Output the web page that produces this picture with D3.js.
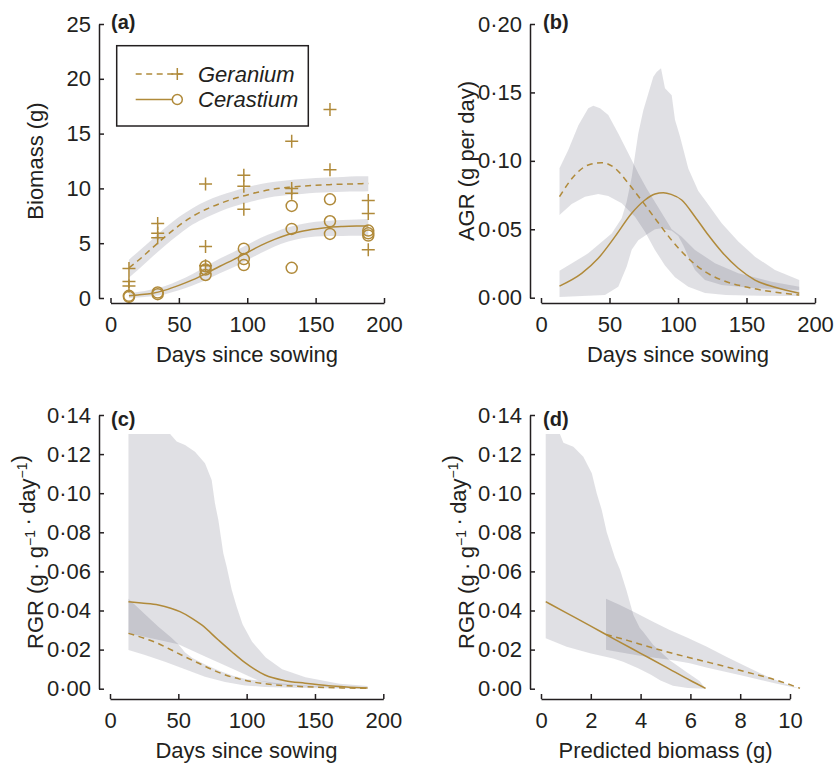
<!DOCTYPE html>
<html><head><meta charset="utf-8">
<script src="https://cdn.jsdelivr.net/npm/d3@7"></script>
<style>
body{margin:0;background:#fff}
svg{display:block}
</style>
</head><body>
<svg id="chart" width="835" height="764"></svg>
<script>
// ---------- Panel (a): biomass observations and fits ----------
const obsDays = [13.5, 34.5, 69.5, 97.5, 132.5, 160.5, 188.5];
const gerObs = [[2.7,1.5,1.1],[6.8,5.9,5.5],[10.4,4.7,2.95],[11.2,10.2,8.1],[14.3,10.0,9.55],[17.2,11.7],[8.9,7.7,4.4]];
const cerObs = [[0.2,0.1],[0.5,0.35],[2.9,2.6,2.1],[4.5,3.55,3.0],[8.4,6.3,2.75],[9.0,7.0,5.85],[6.15,5.9,5.7]];
const fitDays = [13.5,20,30,40,50,60,70,80,90,100,110,120,130,140,150,160,170,180,188.5];
const gerFit = [2.75,3.4,4.5,5.6,6.6,7.45,8.1,8.62,9.05,9.4,9.72,9.95,10.1,10.2,10.28,10.34,10.39,10.42,10.45];
const gerHi  = [3.5,4.2,5.3,6.4,7.4,8.2,8.85,9.35,9.75,10.1,10.4,10.6,10.75,10.85,10.95,11.0,11.05,11.1,11.12];
const gerLo  = [1.85,2.55,3.7,4.8,5.8,6.7,7.35,7.9,8.35,8.7,9.0,9.25,9.4,9.5,9.6,9.65,9.7,9.72,9.75];
const cerFit = [0.2,0.28,0.42,0.72,1.15,1.65,2.25,2.9,3.5,4.15,4.8,5.35,5.8,6.1,6.3,6.45,6.52,6.56,6.58];
const cerHi  = [0.45,0.55,0.78,1.1,1.6,2.2,2.9,3.6,4.2,4.85,5.5,6.0,6.45,6.75,6.95,7.05,7.12,7.17,7.2];
const cerLo  = [0.0,0.05,0.15,0.35,0.7,1.15,1.65,2.25,2.8,3.45,4.1,4.7,5.15,5.45,5.6,5.65,5.66,5.67,5.68];

// ---------- Panel (b): AGR [day, value] ----------
const gerAGR = [[13.5,0.0738],[24.8,0.0897],[34.5,0.097],[44.3,0.0987],[54,0.0946],[63.7,0.0836],[73.5,0.071],[83.2,0.058],[95.4,0.042],[107.5,0.0288],[119.7,0.019],[131.9,0.0129],[148.9,0.008],[168.4,0.0044],[188.5,0.002]];
const gerAGRHi = [[13.5,0.0946],[19.9,0.108],[27.3,0.126],[34.5,0.1384],[38.2,0.1403],[43.1,0.1384],[49.1,0.1335],[56.4,0.120],[63.7,0.1055],[71,0.091],[77,0.080],[83.2,0.070],[95.4,0.05],[102.7,0.0446],[112.4,0.0349],[127,0.0251],[144,0.0178],[168.4,0.0117],[188.5,0.008]];
const gerAGRLo = [[13.5,0.0604],[22.4,0.0685],[32.1,0.0738],[41.8,0.0758],[49.1,0.0743],[58.9,0.069],[68.6,0.0592],[75.9,0.0482],[83.2,0.0349],[90.5,0.0235],[97.8,0.015],[107.5,0.008],[119.7,0.0035],[135,0.002],[160,0.0014],[188.5,0.0012]];
const cerAGR = [[13.5,0.0085],[29.7,0.0178],[41.8,0.0288],[54,0.0446],[66.2,0.0617],[75.9,0.0714],[83.2,0.0758],[89.3,0.0767],[95,0.0755],[102.7,0.0714],[112.4,0.0592],[122.1,0.0458],[131.9,0.0336],[144,0.0215],[156.2,0.0129],[170.8,0.0076],[188.5,0.0032]];
const cerAGRHi = [[13.5,0.0197],[34.5,0.0324],[51.6,0.047],[58.9,0.058],[62.5,0.07],[66.2,0.088],[71,0.120],[74.7,0.137],[78.3,0.149],[82,0.1615],[84.4,0.165],[87.6,0.1676],[89.3,0.159],[90.5,0.153],[95.4,0.148],[97.8,0.130],[101.5,0.1176],[107.5,0.0945],[114.8,0.078],[119.7,0.0714],[131.9,0.0544],[144,0.041],[156.2,0.030],[170.8,0.0202],[188.5,0.0129]];
const cerAGRLo = [[13.5,0.0005],[46.7,0.002],[56.4,0.008],[62.5,0.0227],[66.2,0.035],[71,0.042],[78.3,0.047],[83.2,0.050],[88.1,0.0507],[95.4,0.049],[100.2,0.045],[104,0.038],[107.5,0.030],[112.4,0.0202],[119.7,0.0129],[131.9,0.0093],[156.2,0.0069],[188.5,0.0056]];

// ---------- Panel (c): RGR vs day ----------
const cerRGR = [[13.5,0.0445],[23,0.0438],[35.4,0.0428],[45,0.041],[51.2,0.0394],[60,0.036],[67.1,0.0326],[79.3,0.0249],[89.1,0.0189],[98.8,0.0133],[113.4,0.007],[128.1,0.0041],[142.7,0.0028],[160,0.0015],[175,0.0008],[188.5,0.0003]];
const cerRGRHi = [[13.5,0.1303],[44,0.1303],[48.8,0.1264],[54.9,0.1247],[62.2,0.1212],[69.5,0.1153],[74.4,0.1068],[76.8,0.0948],[79.3,0.0863],[82.9,0.0693],[85.4,0.0624],[89.1,0.0505],[92.7,0.0419],[97,0.033],[104,0.024],[114,0.016],[126,0.010],[143,0.0058],[168,0.0025],[188.5,0.0014]];
const cerRGRLo = [[13.5,0.0283],[30,0.0258],[50,0.0228],[70,0.0164],[90,0.0101],[108.5,0.0042],[120,0.0024],[140,0.0012],[165,0.0007],[188.5,0.0004]];
const gerRGR = [[13.5,0.0283],[25,0.0258],[35,0.0232],[45,0.0198],[55,0.0163],[65,0.013],[75,0.0097],[85,0.0069],[95,0.0049],[105,0.0034],[115,0.0024],[130,0.0015],[150,0.0008],[170,0.0004],[188.5,0.0002]];
const gerRGRHi = [[13.5,0.046],[25,0.0385],[35,0.032],[45,0.026],[50,0.0228],[55,0.0185],[60,0.0158],[70,0.0123],[80,0.0092],[90,0.0066],[100,0.0048],[108.5,0.0042],[120,0.0031],[140,0.0018],[165,0.0009],[188.5,0.0004]];
const gerRGRLo = [[13.5,0.0198],[25.6,0.0172],[40.2,0.0138],[54.9,0.0099],[69.5,0.0061],[84.2,0.0034],[98.8,0.0017],[113.4,0.0009],[140,0.0003],[188.5,0.0]];

// ---------- Panel (d): RGR vs predicted biomass ----------
const cerRGRb = [[0.19,0.0445],[1,0.0389],[2,0.032],[3,0.025],[4,0.0181],[5,0.0112],[6,0.0042],[6.61,0.0002]];
const cerRGRbHi = [[0.19,0.1303],[0.76,0.1303],[0.9,0.1258],[1.3,0.1238],[1.7,0.1187],[2.04,0.1102],[2.24,0.0999],[2.44,0.0914],[2.64,0.080],[2.97,0.067],[3.17,0.061],[3.44,0.050],[3.71,0.0377],[3.97,0.031],[4.11,0.029],[4.5,0.0225],[5.17,0.0145],[5.84,0.0085],[6.37,0.004],[6.61,0.0]];
const cerRGRbLo = [[0.19,0.0258],[1.03,0.0215],[1.97,0.0181],[2.9,0.0155],[3.3,0.0138],[3.9,0.0105],[4.4,0.0072],[4.8,0.0042],[5.3,0.0015],[5.9,0.0003],[6.61,0.0]];
const gerRGRb = [[2.61,0.0278],[3.5,0.0246],[4.5,0.0208],[5.5,0.0174],[6.5,0.0142],[7.5,0.011],[8.5,0.0077],[9.5,0.0042],[10.4,0.0002]];
const gerRGRbHi = [[2.61,0.046],[3.17,0.0428],[3.84,0.0386],[4.5,0.0343],[5.17,0.030],[5.84,0.0263],[6.64,0.0216],[7.44,0.0164],[8.24,0.0113],[9.04,0.0065],[9.7,0.0031],[10.4,0.0]];
const gerRGRbLo = [[2.61,0.0199],[3.17,0.0187],[3.98,0.0168],[4.5,0.016],[5.17,0.0148],[5.98,0.013],[6.64,0.0108],[7.44,0.0085],[8.24,0.0062],[9.04,0.0038],[9.7,0.0019],[10.4,0.0]];

// ---------- Ticks / labels ----------
const dayTicks = [0,50,100,150,200];
const biomassTicks = [0,5,10,15,20,25];
const agrTicks = [0,0.05,0.10,0.15,0.20];
const rgrTicks = [0,0.02,0.04,0.06,0.08,0.10,0.12,0.14];
const predTicks = [0,2,4,6,8,10];
const seriesNames = ["Geranium","Cerastium"];

// ---------- Drawing ----------
const svg = d3.select("#chart");
const FONT = "'Liberation Sans', Arial, Helvetica, sans-serif";
const GOLD = "#b08a3a", INK = "#231f20", BAND = "#3c405a", BANDOP = 0.16;
const FS = 22;
const dotFmt = v => d3.format(".2f")(v).replace(".", "\u00b7");
const DASH = "6,4.5";

function axes(x, y, axX, axY, xt, yt, yfmt) {
  const gy = svg.append("g").attr("transform", `translate(${axX},0)`)
    .call(d3.axisLeft(y).tickValues(yt).tickFormat(yfmt).tickSizeInner(-5).tickSizeOuter(0).tickPadding(8));
  const gx = svg.append("g").attr("transform", `translate(0,${axY})`)
    .call(d3.axisBottom(x).tickValues(xt).tickFormat(d3.format("d")).tickSizeInner(-5).tickSizeOuter(0).tickPadding(13));
  [gy, gx].forEach(g => {
    g.attr("font-family", FONT).attr("font-size", FS);
    g.selectAll("path,line").attr("stroke", INK).attr("stroke-width", 1.5);
    g.selectAll("text").attr("fill", INK);
  });
}
function band(x, y, hi, lo) {
  const pts = hi.map(d => [x(d[0]), y(d[1])]).concat(lo.slice().reverse().map(d => [x(d[0]), y(d[1])]));
  svg.append("path").attr("d", d3.line()(pts) + "Z")
    .attr("fill", BAND).attr("fill-opacity", BANDOP).attr("stroke", "none");
}
function curve(x, y, data, dashed) {
  svg.append("path").datum(data)
    .attr("d", d3.line().x(d => x(d[0])).y(d => y(d[1])).curve(d3.curveMonotoneX))
    .attr("fill", "none").attr("stroke", GOLD).attr("stroke-width", 1.5)
    .attr("stroke-dasharray", dashed ? DASH : null);
}
function yTitle(x, y, parts) {
  const t = svg.append("text").attr("transform", `translate(${x},${y}) rotate(-90)`)
    .attr("text-anchor", "middle").attr("font-family", FONT).attr("font-size", FS).attr("fill", INK);
  parts.forEach(p => {
    if (p.sup) {
      t.append("tspan").attr("dy", -8).attr("font-size", 14).text(p.t);
      t.append("tspan").attr("dy", 8).text("");
    } else t.append("tspan").text(p.t);
  });
}
function xTitle(x, y, s) {
  svg.append("text").attr("x", x).attr("y", y).attr("text-anchor", "middle")
    .attr("font-family", FONT).attr("font-size", FS).attr("fill", INK).text(s);
}
function label(x, y, s) {
  svg.append("text").attr("x", x).attr("y", y).attr("font-family", FONT)
    .attr("font-weight", "bold").attr("font-size", 20).attr("fill", INK).text(s);
}
const crossPath = s => `M${-s},0H${s}M0,${-s}V${s}`;

// Panel a
{
  const x = d3.scaleLinear([0, 200], [110.5, 384]);
  const y = d3.scaleLinear([0, 25], [298, 24]);
  const rows = (fit, lo, hi) => fitDays.map((d, i) => [d, fit[i], lo[i], hi[i]]);
  const area = d3.area().x(d => x(d[0])).y0(d => y(d[2])).y1(d => y(d[3])).curve(d3.curveMonotoneX);
  svg.append("path").attr("d", area(rows(gerFit, gerLo, gerHi))).attr("fill", BAND).attr("fill-opacity", BANDOP);
  svg.append("path").attr("d", area(rows(cerFit, cerLo, cerHi))).attr("fill", BAND).attr("fill-opacity", BANDOP);
  curve(x, y, rows(gerFit, gerLo, gerHi), true);
  curve(x, y, rows(cerFit, cerLo, cerHi), false);
  obsDays.forEach((d, i) => {
    gerObs[i].forEach(v => svg.append("path").attr("d", crossPath(6.5))
      .attr("transform", `translate(${x(d)},${y(v)})`).attr("stroke", GOLD).attr("stroke-width", 1.5).attr("fill", "none"));
    cerObs[i].forEach(v => svg.append("circle").attr("cx", x(d)).attr("cy", y(v)).attr("r", 5.5)
      .attr("stroke", GOLD).attr("stroke-width", 1.5).attr("fill", "none"));
  });
  axes(x, y, 99, 303, dayTicks, biomassTicks, d3.format("d"));
  xTitle(247, 362, "Days since sowing");
  yTitle(43, 161, [{t: "Biomass (g)"}]);
  label(111, 29, "(a)");
  // legend
  svg.append("rect").attr("x", 116.7).attr("y", 45.7).attr("width", 191.6).attr("height", 80.3)
    .attr("fill", "#fff").attr("stroke", INK).attr("stroke-width", 1.5);
  const ly = [74, 99.5];
  svg.append("line").attr("x1", 135.7).attr("x2", 182).attr("y1", ly[0]).attr("y2", ly[0])
    .attr("stroke", GOLD).attr("stroke-width", 1.5).attr("stroke-dasharray", DASH);
  svg.append("path").attr("d", crossPath(6)).attr("transform", `translate(177.3,${ly[0]})`)
    .attr("stroke", GOLD).attr("stroke-width", 1.5);
  svg.append("line").attr("x1", 135.7).attr("x2", 172).attr("y1", ly[1]).attr("y2", ly[1])
    .attr("stroke", GOLD).attr("stroke-width", 1.5);
  svg.append("circle").attr("cx", 177.3).attr("cy", ly[1]).attr("r", 5)
    .attr("stroke", GOLD).attr("stroke-width", 1.5).attr("fill", "none");
  seriesNames.forEach((n, i) => svg.append("text").attr("x", 198).attr("y", ly[i] + 7.5)
    .attr("font-family", FONT).attr("font-style", "italic").attr("font-size", FS).attr("fill", INK).text(n));
}

// Panel b
{
  const x = d3.scaleLinear([0, 200], [541, 815]);
  const y = d3.scaleLinear([0, 0.2], [297.7, 24]);
  band(x, y, gerAGRHi, gerAGRLo);
  band(x, y, cerAGRHi, cerAGRLo);
  curve(x, y, gerAGR, true);
  curve(x, y, cerAGR, false);
  axes(x, y, 530, 303, dayTicks, agrTicks, dotFmt);
  xTitle(678, 362, "Days since sowing");
  yTitle(474, 161, [{t: "AGR (g per day)"}]);
  label(543, 29, "(b)");
}

// Panel c
{
  const x = d3.scaleLinear([0, 200], [110, 383.3]);
  const y = d3.scaleLinear([0, 0.14], [688.7, 415]);
  band(x, y, cerRGRHi, cerRGRLo);
  band(x, y, gerRGRHi, gerRGRLo);
  curve(x, y, gerRGR, true);
  curve(x, y, cerRGR, false);
  axes(x, y, 99, 699, dayTicks, rgrTicks, dotFmt);
  xTitle(246.5, 758, "Days since sowing");
  yTitle(43, 552, [{t: "RGR (g\u2009\u00b7\u2009g"}, {t: "\u22121", sup: true}, {t: "\u2009\u00b7\u2009day"}, {t: "\u22121", sup: true}, {t: ")"}]);
  label(111, 426, "(c)");
}

// Panel d
{
  const x = d3.scaleLinear([0, 10], [541, 790]);
  const y = d3.scaleLinear([0, 0.14], [688.7, 415]);
  band(x, y, cerRGRbHi, cerRGRbLo);
  band(x, y, gerRGRbHi, gerRGRbLo);
  curve(x, y, gerRGRb, true);
  curve(x, y, cerRGRb, false);
  axes(x, y, 530, 699, predTicks, rgrTicks, dotFmt);
  xTitle(665.5, 758, "Predicted biomass (g)");
  yTitle(474, 552, [{t: "RGR (g\u2009\u00b7\u2009g"}, {t: "\u22121", sup: true}, {t: "\u2009\u00b7\u2009day"}, {t: "\u22121", sup: true}, {t: ")"}]);
  label(543, 426, "(d)");
}
</script>
</body></html>
